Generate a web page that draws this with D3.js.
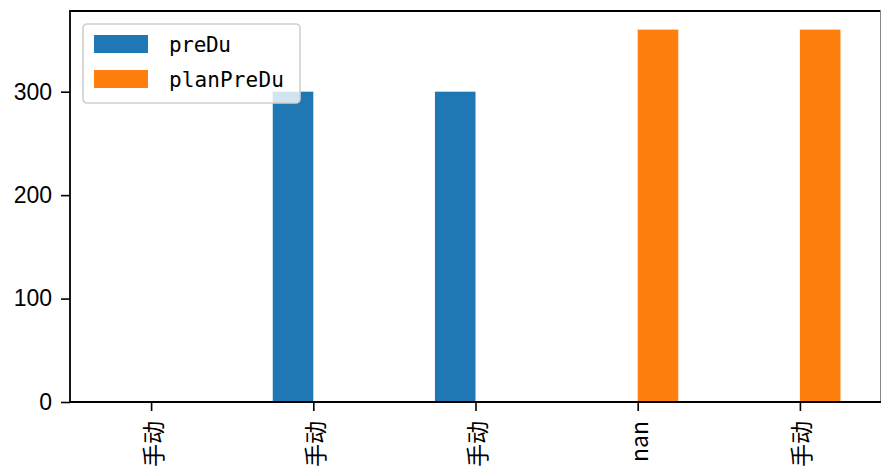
<!DOCTYPE html>
<html>
<head>
<meta charset="utf-8">
<script src="https://cdn.jsdelivr.net/npm/d3@7/dist/d3.min.js"></script>
<style>
  body { margin: 0; background: #fff; }
  svg { display: block; }
</style>
</head>
<body>
<svg id="chart" width="881" height="474"></svg>
<script>
    // data (NaN = no bar)
    var categories = ["手动", "手动", "手动", "nan", "手动"];
    var seriesNames = ["preDu", "planPreDu"];
    var preDu = [NaN, 300, 300, NaN, NaN];
    var planPreDu = [NaN, NaN, NaN, 360, 360];
    var yTicks = [0, 100, 200, 300];

    var colors = ["#1f77b4", "#ff7f0e"];
    var series = [preDu, planPreDu];

    var WIDTH = 881,
        HEIGHT = 474,
        MARGINS = { top: 11, right: 0, bottom: 72, left: 70 };

    var svg = d3.select("#chart");

    var idx = d3.range(categories.length);
    var xScale = d3.scaleLinear()
        .domain([-0.5, categories.length - 0.5])
        .range([MARGINS.left, WIDTH - MARGINS.right]);
    var yMax = d3.max(series, function(s) { return d3.max(s.filter(function(v) { return !isNaN(v); })); }) * 1.05;
    var yScale = d3.scaleLinear()
        .domain([0, yMax])
        .range([HEIGHT - MARGINS.bottom, MARGINS.top]);

    var barW = 0.25;

    // bars
    series.forEach(function(vals, si) {
        var off = (si - (series.length - 1) / 2) * barW;
        svg.append("g").selectAll("rect")
            .data(idx.filter(function(i) { return !isNaN(vals[i]); }))
            .enter().append("rect")
            .attr("x", function(i) { return xScale(i + off - barW / 2); })
            .attr("width", function() { return xScale(barW) - xScale(0); })
            .attr("y", function(i) { return yScale(vals[i]); })
            .attr("height", function(i) { return yScale(0) - yScale(vals[i]); })
            .attr("fill", colors[si]);
    });

    // x axis
    var xAxis = d3.axisBottom(xScale)
        .tickValues(idx)
        .tickFormat(function(i) { return categories[i]; })
        .tickSize(9)
        .tickPadding(10);
    var gx = svg.append("g")
        .attr("transform", "translate(0," + yScale(0) + ")")
        .call(xAxis);
    gx.select(".domain").remove();
    gx.selectAll("line").attr("stroke", "#000").attr("stroke-width", 1.6);
    gx.selectAll("text")
        .attr("font-family", "'Noto Sans CJK SC', 'Liberation Sans', sans-serif")
        .attr("font-size", 23)
        .attr("fill", "#000")
        .attr("text-anchor", "end")
        .attr("dy", null)
        .attr("dominant-baseline", "central")
        .attr("transform", "translate(0,19) rotate(-90)")
        .attr("y", 0)
        .attr("x", 0);

    // y axis
    var yAxis = d3.axisLeft(yScale)
        .tickValues(yTicks)
        .tickSize(9)
        .tickPadding(9);
    var gy = svg.append("g")
        .attr("transform", "translate(" + MARGINS.left + ",0)")
        .call(yAxis);
    gy.select(".domain").remove();
    gy.selectAll("line").attr("stroke", "#000").attr("stroke-width", 1.6);
    gy.selectAll("text")
        .attr("font-family", "'Liberation Sans', Arial, sans-serif")
        .attr("font-size", 23)
        .attr("fill", "#000");

    // spines
    var x0 = MARGINS.left, x1 = WIDTH - 0.5, y0 = MARGINS.top, y1 = yScale(0);
    svg.append("path")
        .attr("d", "M" + x0 + "," + y1 + "V" + y0 + "H" + x1)
        .attr("fill", "none").attr("stroke", "#000").attr("stroke-width", 1.8);
    svg.append("line")
        .attr("x1", x1).attr("x2", x1).attr("y1", y0).attr("y2", y1)
        .attr("stroke", "#888").attr("stroke-width", 1);
    svg.append("line")
        .attr("x1", x0).attr("x2", WIDTH).attr("y1", y1).attr("y2", y1)
        .attr("stroke", "#000").attr("stroke-width", 1.8);

    // legend
    var lg = svg.append("g").attr("transform", "translate(83,24)");
    lg.append("rect")
        .attr("width", 217).attr("height", 79)
        .attr("rx", 4)
        .attr("fill", "#fff").attr("fill-opacity", 0.8)
        .attr("stroke", "#d0d0d0").attr("stroke-width", 1.6);
    seriesNames.forEach(function(name, i) {
        var yy = 11 + i * 35;
        lg.append("rect")
            .attr("x", 11).attr("y", yy)
            .attr("width", 54).attr("height", 18)
            .attr("fill", colors[i]);
        lg.append("text")
            .attr("x", 86).attr("y", yy + 17)
            .attr("font-family", "'DejaVu Sans Mono', 'Liberation Mono', monospace")
            .attr("font-size", 21)
            .attr("textLength", name.length * 13.2 - 4)
            .attr("fill", "#000")
            .text(name);
    });
</script>
</body>
</html>
